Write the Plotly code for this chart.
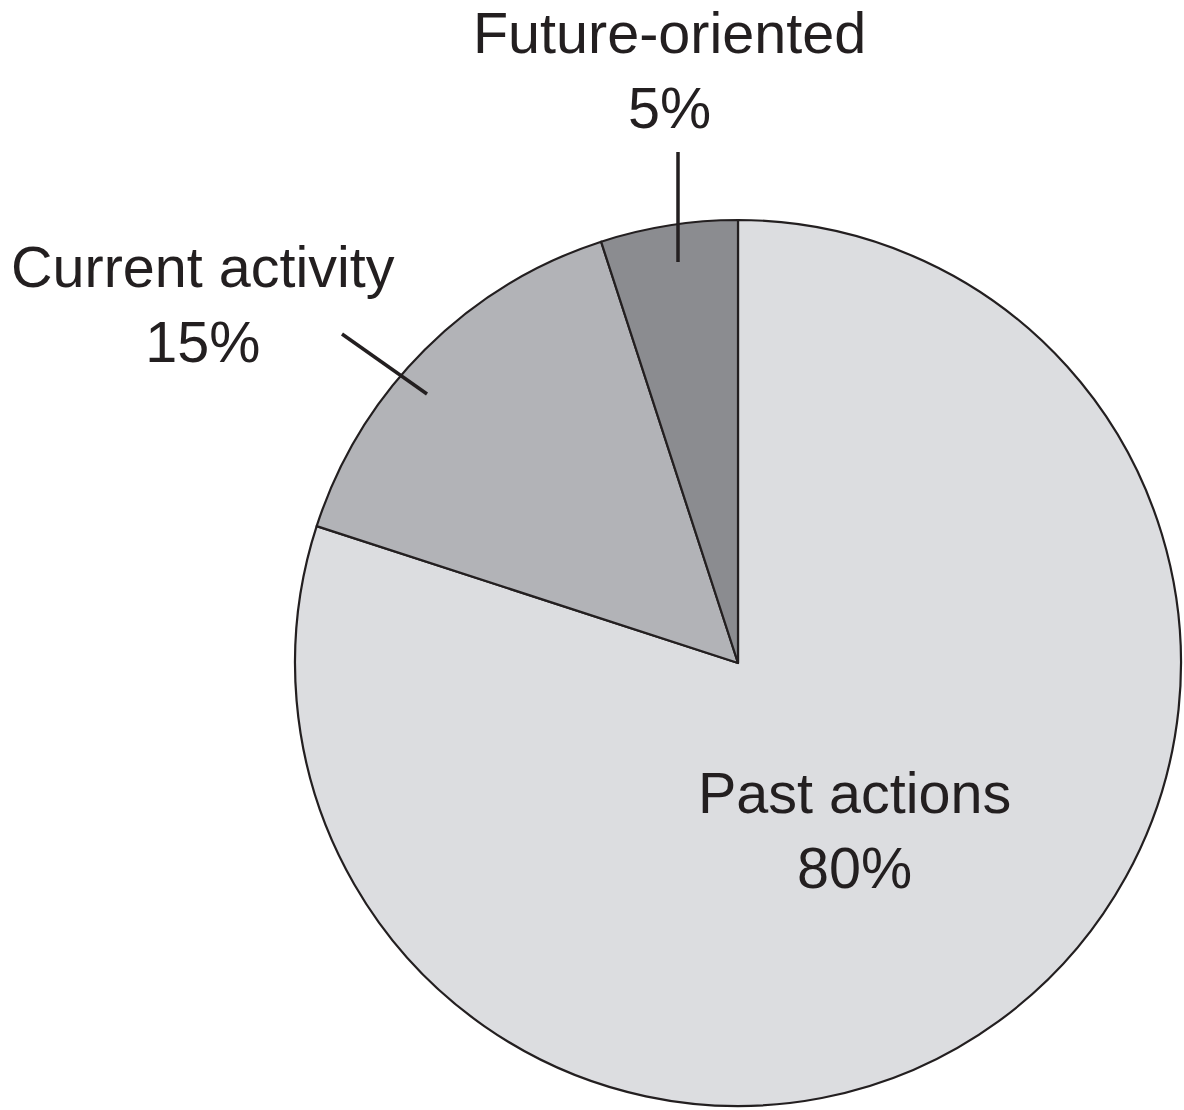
import plotly.graph_objects as go

W, H = 1184, 1110

# slices listed clockwise from 12 o'clock
labels = ["Past actions", "Current activity", "Future-oriented"]
values = [80, 15, 5]
colors = ["#dcdde0", "#b2b3b7", "#8b8c90"]
ink = "#231f20"


def px(x):
    return x / W


def py(y):
    return 1 - y / H


# pie placement: centre (738, 663), radius 443 in pixels
cx, cy, r = 738, 663, 443

fig = go.Figure(
    go.Pie(
        labels=labels,
        values=values,
        sort=False,
        direction="clockwise",
        rotation=0,
        marker=dict(colors=colors, line=dict(color=ink, width=2.2)),
        textinfo="none",
        hoverinfo="label+percent",
        domain=dict(x=[px(cx - r), px(cx + r)], y=[py(cy + r), py(cy - r)]),
        showlegend=False,
    )
)

font = dict(family="Liberation Sans, Arial, Helvetica, sans-serif", size=57.5, color=ink)

label_pos = {
    "Future-oriented": (669, 70),
    "Current activity": (203, 304),
    "Past actions": (854, 830),
}
for name, v in zip(labels, values):
    x, y = label_pos[name]
    fig.add_annotation(
        x=px(x), y=py(y), xref="paper", yref="paper",
        text=f"{name}<br>{v}%", showarrow=False,
        xanchor="center", yanchor="middle", align="center", font=font,
    )

# leader lines for the two outside labels
leaders = [((678, 152), (678, 262)), ((342, 334), (427, 394))]
for (x0, y0), (x1, y1) in leaders:
    fig.add_shape(
        type="line", xref="paper", yref="paper",
        x0=px(x0), y0=py(y0), x1=px(x1), y1=py(y1),
        line=dict(color=ink, width=3.5),
    )

fig.update_layout(
    width=W, height=H,
    margin=dict(l=0, r=0, t=0, b=0),
    paper_bgcolor="white",
    plot_bgcolor="white",
)

fig.write_html("out.html")
